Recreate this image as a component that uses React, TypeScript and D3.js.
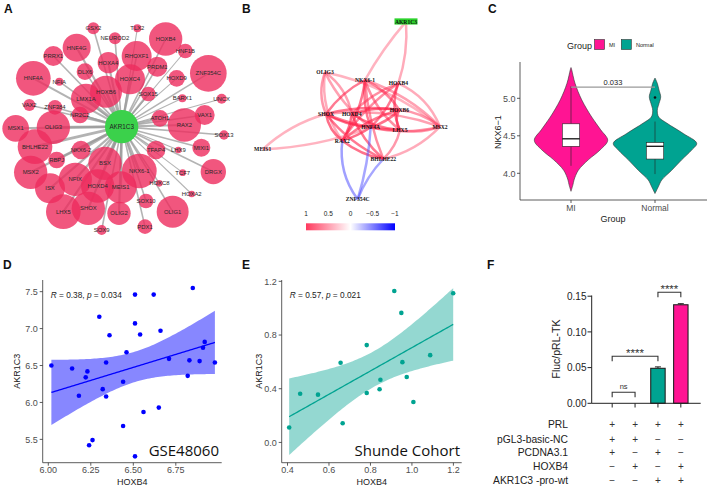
import React from "react";
import * as d3 from "d3";

const W = 708, H = 489;
const SANS = "'Liberation Sans', Arial, sans-serif";
const SERIF = "'Liberation Serif', 'Times New Roman', serif";

// ---------------- Panel A : network (layout units 0..720) ----------------
const aCenter = { name: "AKR1C3", x: 365, y: 380, r: 50 };
const aNames = ["GSX2","TLX2","NEUROD2","HOXB4","HNF4G","RHOXF1","HNF1B","PRRX1","PRDM1","HOXA4","ZNF354C","HNF4A","NFIA","DLX6","HOXD9","HOXC4","SOX15","HOXB6","LMX1A","BARX1","UNCX","VAX2","ZNF384","NR2C2","VAX1","ATOH1","RAX2","MSX1","OLIG3","SOX13","BHLHE22","NKX6-2","TFAP4","LHX9","MIXI1","RBPJ","BSX","NKX6-1","TCF7","DRGX","MSX2","NFIX","ISX","HOXD4","MEIS1","HOXC8","HOXA2","SOX10","LHX5","SHOX","OLIG2","OLIG1","PDX1","SOX9"];
const aX = [280,412,345,497,230,410,556,160,472,325,625,100,178,255,530,390,445,318,258,547,665,88,165,240,614,480,553,47,160,672,105,243,468,535,604,170,315,418,548,640,92,226,150,293,362,478,575,438,190,265,357,518,435,305];
const aY = [85,85,115,117,143,168,153,168,200,188,220,235,245,215,235,238,282,275,296,295,296,315,322,345,345,355,375,385,382,405,440,450,450,450,443,480,490,513,518,515,517,538,565,558,562,550,582,603,635,625,640,635,680,690];
const aR = [18,12,18,50,42,45,22,30,30,32,55,52,12,25,25,45,22,48,45,12,15,18,22,25,30,25,50,40,50,14,52,28,28,10,27,25,50,52,10,38,50,50,45,50,48,10,10,22,52,50,35,48,22,15];
const aW = [2,1,2,2,3,2,1,2,2,3,2,3,2,2,1,3,3,4,4,1,1,2,2,3,2,3,3,3,4,2,4,3,2,1,2,3,4,4,1,2,3,3,3,4,4,2,1,2,3,3,3,2,2,2];

// ---------------- Panel B : correlation network ----------------
const bNames = ["AKR1C3","OLIG3","NKX6-1","HOXB4","SHOX","HOXD4","HOXB6","HNF4A","LHX5","MSX2","RAX2","BHLHE22","MEIS1","ZNF354C"];
const bX = [528,285,405,505,288,365,508,422,510,630,337,460,98,383];
const bY = [65,217,240,250,342,342,330,382,390,380,422,477,448,598];
const bSrc = ["AKR1C3","AKR1C3","OLIG3","OLIG3","OLIG3","OLIG3","OLIG3","NKX6-1","NKX6-1","NKX6-1","NKX6-1","NKX6-1","NKX6-1","NKX6-1","HOXB4","HOXB4","HOXB4","HOXB4","HOXB4","SHOX","SHOX","SHOX","SHOX","SHOX","SHOX","HOXD4","HOXD4","HOXD4","HOXD4","HNF4A","HNF4A","HNF4A","HOXB6","HOXB6","HOXB6","LHX5","LHX5","MSX2","RAX2","MEIS1","MEIS1","ZNF354C","ZNF354C","ZNF354C"];
const bTgt = ["NKX6-1","HOXB4","MSX2","SHOX","HOXD4","HNF4A","RAX2","SHOX","RAX2","HNF4A","HOXB6","LHX5","MSX2","BHLHE22","HOXD4","HNF4A","LHX5","MSX2","RAX2","HOXB6","HNF4A","LHX5","MSX2","BHLHE22","RAX2","HOXB6","LHX5","RAX2","BHLHE22","HOXB6","MSX2","RAX2","MSX2","RAX2","LHX5","MSX2","BHLHE22","BHLHE22","BHLHE22","SHOX","HNF4A","RAX2","HNF4A","BHLHE22"];
const bCor = [0.4,0.45,0.4,0.55,0.5,0.5,0.45,0.7,0.75,0.7,0.65,0.6,0.5,0.6,0.6,0.7,0.7,0.45,0.6,0.75,0.85,0.75,0.5,0.7,0.85,0.75,0.75,0.85,0.7,0.8,0.6,0.85,0.55,0.7,0.7,0.5,0.55,0.45,0.8,0.4,0.4,-0.55,-0.5,-0.5];
const bCurv = [0.05,-0.1,-0.12,0.2,-0.2,0.12,0.2,0.12,-0.12,0.12,-0.15,0.15,-0.12,0.08,0.12,-0.12,0.2,-0.2,0.1,-0.1,0.12,0.1,-0.12,0.12,0.2,-0.12,0.12,-0.12,0.12,0.12,0.12,-0.08,-0.15,0.12,0.3,0.15,-0.15,-0.15,0.12,-0.12,0.08,-0.2,0.06,-0.1];
const bLegendTicks = [1, 0.5, 0, -0.5, -1];

// ---------------- Panel C : violin ----------------
const cGroups = ["MI", "Normal"];
const cColors = ["#FF1493", "#00A391"];
const miVal = [3.76,3.85,3.91,4.04,4.18,4.31,4.44,4.58,4.75,4.98,5.2,5.38,5.41];
const miDen = [0,2,3,7.3,17.3,29,36.7,29.7,20.7,10.7,4,0.7,0];
const nmVal = [3.73,3.82,3.91,4.04,4.18,4.31,4.4,4.53,4.67,4.75,4.84,4.93,5.02,5.11,5.2,5.27];
const nmDen = [0,3.3,6.7,16.7,26.7,36.7,41.7,28.3,11.7,3.7,2.3,4,5.7,4,2.3,0];
// q1, median, q3, lower whisker, upper whisker
const cBox = [[4.36,4.46,4.66,4.10,5.16],[4.19,4.36,4.41,3.99,4.69]];
const cOutliers = [[], [5.01]];
const cTicks = [4.0, 4.5, 5.0];
const cP = "0.033";

// ---------------- Panel D / E : scatter ----------------
const dX = [6.018,6.14,6.18,6.23,6.22,6.24,6.26,6.30,6.32,6.34,6.34,6.36,6.44,6.44,6.46,6.51,6.51,6.51,6.54,6.56,6.62,6.65,6.66,6.71,6.82,6.83,6.85,6.89,6.91,6.92,6.98];
const dY = [6.50,6.46,6.09,6.42,6.34,5.42,5.49,7.16,6.18,6.08,6.54,6.91,6.28,5.68,6.68,7.46,7.07,5.27,6.92,5.87,7.46,5.93,6.97,6.59,6.36,6.57,7.55,6.56,6.74,6.82,6.54];
const dXTicks = [6.0, 6.25, 6.5, 6.75];
const dYTicks = [5.5, 6.0, 6.5, 7.0, 7.5];
const eX = [0.408,0.461,0.547,0.656,0.666,0.782,0.782,0.844,0.848,0.915,0.949,0.954,0.975,1.007,1.088,1.199];
const eY = [0.111,0.363,0.356,0.594,0.143,0.725,0.368,0.396,0.467,1.128,0.965,0.598,0.487,0.301,0.650,1.111];
const eXTicks = [0.4, 0.6, 0.8, 1.0, 1.2];
const eYTicks = [0.0, 0.4, 0.8, 1.2];

// ---------------- Panel F : bar chart ----------------
const fVals = [0, 0, 0.049, 0.138];
const fErr = [0, 0, 0.002, 0.0015];
const fColors = ["#ffffff", "#ffffff", "#00A391", "#FF1493"];
const fTicks = [0.0, 0.05, 0.10, 0.15];
const fRowLabels = ["PRL", "pGL3-basic-NC", "PCDNA3.1", "HOXB4", "AKR1C3 -pro-wt"];
const fSigns = [["+","+","+","+"],["+","+","−","−"],["+","−","+","−"],["−","+","−","+"],["−","−","+","+"]];
const fBrFrom = [0, 0, 2];
const fBrTo = [1, 2, 3];
const fBrVal = [0.0154, 0.066, 0.1555];
const fBrLab = ["ns", "****", "****"];

function tQuant(df: number) {
  const z = 1.959964;
  return z + (z ** 3 + z) / (4 * df) + (5 * z ** 5 + 16 * z ** 3 + 3 * z) / (96 * df * df) +
    (3 * z ** 7 + 19 * z ** 5 + 17 * z ** 3 - 15 * z) / (384 * df ** 3);
}
function regression(xs: number[], ys: number[]) {
  const N = xs.length;
  const mx = d3.mean(xs)!, my = d3.mean(ys)!;
  let sxx = 0, sxy = 0;
  xs.forEach((x, i) => { sxx += (x - mx) ** 2; sxy += (x - mx) * (ys[i] - my); });
  const b = sxy / sxx, a = my - b * mx;
  let sse = 0;
  xs.forEach((x, i) => { sse += (ys[i] - a - b * x) ** 2; });
  const s = Math.sqrt(sse / (N - 2));
  const t = tQuant(N - 2);
  const [x0, x1] = d3.extent(xs) as [number, number];
  return d3.range(81).map(i => {
    const x = x0 + (x1 - x0) * i / 80;
    const yh = a + b * x;
    const se = s * Math.sqrt(1 / N + (x - mx) ** 2 / sxx);
    return { x, y: yh, lo: yh - t * se, hi: yh + t * se };
  });
}

function PanelA() {
  const s = d3.scaleLinear().domain([0, 720]).range([0, 240]);
  const nodes = aNames.map((n, i) => ({ n, x: s(aX[i]), y: s(aY[i]), r: aR[i] / 3, w: aW[i] }));
  const cx = s(aCenter.x), cy = s(aCenter.y);
  return (
    <g>
      {nodes.map((d, i) => (
        <line key={"e" + i} x1={cx} y1={cy} x2={d.x} y2={d.y} stroke="#9a9a9a" strokeOpacity={0.75} strokeWidth={0.5 + d.w * 0.55} />
      ))}
      {nodes.map((d, i) => (
        <circle key={"c" + i} cx={d.x} cy={d.y} r={d.r} fill="#EE2C5E" fillOpacity={0.8} />
      ))}
      <circle cx={cx} cy={cy} r={aCenter.r / 3} fill="#3BD14B" />
      {nodes.map((d, i) => (
        <text key={"t" + i} x={d.x} y={d.y + 2} fontSize={5.9} fill="#2a2a2a" textAnchor="middle" fontFamily={SANS}>{d.n}</text>
      ))}
      <text x={cx} y={cy + 2.2} fontSize={6.3} fill="#222" textAnchor="middle" fontFamily={SANS}>{aCenter.name}</text>
    </g>
  );
}

function PanelB() {
  const sx = d3.scaleLinear().domain([0, 690]).range([230, 460]);
  const sy = d3.scaleLinear().domain([0, 720]).range([0, 240]);
  const pos: Record<string, [number, number]> = {};
  bNames.forEach((n, i) => { pos[n] = [sx(bX[i]), sy(bY[i])]; });
  const col = d3.scaleLinear<string>().domain([-1, 0, 1]).range(["#2020FF", "#FFFFFF", "#FF2048"]);
  const edges = bSrc.map((sname, i) => {
    const [x1, y1] = pos[sname];
    const [x2, y2] = pos[bTgt[i]];
    const mx = (x1 + x2) / 2, my = (y1 + y2) / 2;
    const dx = x2 - x1, dy = y2 - y1;
    const cxp = mx - dy * bCurv[i], cyp = my + dx * bCurv[i];
    const p = d3.path();
    p.moveTo(x1, y1);
    p.quadraticCurveTo(cxp, cyp, x2, y2);
    return { d: p.toString(), c: col(Math.sign(bCor[i]) * Math.min(1, Math.abs(bCor[i]) + 0.3)), v: bCor[i] };
  });
  const lx = d3.scaleLinear().domain([1, -1]).range([306, 395]);
  return (
    <g>
      <defs>
        <linearGradient id="bgrad" x1="0" x2="1" y1="0" y2="0">
          <stop offset="0%" stopColor="#FF3A5E" />
          <stop offset="50%" stopColor="#FFFFFF" />
          <stop offset="100%" stopColor="#0000FF" />
        </linearGradient>
      </defs>
      {edges.map((e, i) => (
        <path key={i} d={e.d} fill="none" stroke={e.c} strokeOpacity={e.v < 0 ? 0.5 : 0.35 + Math.abs(e.v) * 0.35} strokeWidth={2.5} />
      ))}
      {bNames.map((n, i) => {
        const [x, y] = pos[n];
        if (n === "AKR1C3") {
          return (
            <g key={n}>
              <rect x={x - 11.5} y={y - 3.3} width={23} height={6.2} fill="#2BD12B" />
              <text x={x} y={y + 2} fontSize={5.6} fontWeight="bold" textAnchor="middle" fontFamily={SERIF} fill="#111">{n}</text>
            </g>
          );
        }
        return <text key={n} x={x} y={y + 2} fontSize={5.6} fontWeight="bold" textAnchor="middle" fontFamily={SERIF} fill="#111">{n}</text>;
      })}
      {bLegendTicks.map(t => (
        <text key={t} x={lx(t)} y={216} fontSize={6.5} textAnchor="middle" fontFamily={SANS} fill="#222">{t < 0 ? "−" + Math.abs(t) : String(t)}</text>
      ))}
      <rect x={306} y={223.3} width={89} height={7} fill="url(#bgrad)" />
    </g>
  );
}

function PanelC() {
  const y = d3.scaleLinear().domain([3.644, 5.484]).range([200, 62]);
  const x = d3.scaleBand().domain(cGroups).range([529, 697]).padding(0);
  const cxs = cGroups.map(g => x(g)! + x.bandwidth() / 2);
  const profiles = [miVal.map((v, i) => [v, miDen[i]]), nmVal.map((v, i) => [v, nmDen[i]])];
  const sigY = y(5.15);
  return (
    <g fontFamily={SANS}>
      {profiles.map((pr, gi) => {
        const area = d3.area<number[]>().y(d => y(d[0])).x0(d => cxs[gi] - d[1]).x1(d => cxs[gi] + d[1]).curve(d3.curveCatmullRom);
        return <path key={gi} d={area(pr)!} fill={cColors[gi]} stroke="#333" strokeWidth={0.6} />;
      })}
      {cBox.map((b, gi) => {
        const cx = cxs[gi], bw = 8.7;
        return (
          <g key={gi}>
            <line x1={cx} x2={cx} y1={y(b[3])} y2={y(b[0])} stroke="#222" strokeWidth={0.6} />
            <line x1={cx} x2={cx} y1={y(b[2])} y2={y(b[4])} stroke="#222" strokeWidth={0.6} />
            <rect x={cx - bw} width={bw * 2} y={y(b[2])} height={y(b[0]) - y(b[2])} fill="#fff" stroke="#222" strokeWidth={0.6} />
            <line x1={cx - bw} x2={cx + bw} y1={y(b[1])} y2={y(b[1])} stroke="#111" strokeWidth={1.3} />
            {cOutliers[gi].map((o, j) => <circle key={j} cx={cx} cy={y(o)} r={1.3} fill="#111" />)}
          </g>
        );
      })}
      <line x1={cxs[0]} x2={cxs[1]} y1={sigY} y2={sigY} stroke="#9a9a9a" strokeWidth={1.2} />
      <text x={(cxs[0] + cxs[1]) / 2} y={sigY - 2.5} fontSize={7.5} textAnchor="middle" fill="#222">{cP}</text>
      <line x1={520} x2={520} y1={62} y2={200} stroke="#333" strokeWidth={0.8} />
      <line x1={520} x2={707} y1={200} y2={200} stroke="#333" strokeWidth={0.8} />
      {cTicks.map(t => (
        <g key={t}>
          <line x1={517} x2={520} y1={y(t)} y2={y(t)} stroke="#333" strokeWidth={0.8} />
          <text x={515.5} y={y(t) + 3.2} fontSize={9} textAnchor="end" fill="#4d4d4d">{t.toFixed(1)}</text>
        </g>
      ))}
      {cGroups.map((g, i) => (
        <g key={g}>
          <line x1={cxs[i]} x2={cxs[i]} y1={200} y2={203} stroke="#333" strokeWidth={0.8} />
          <text x={cxs[i]} y={211} fontSize={8.5} textAnchor="middle" fill="#4d4d4d">{g}</text>
        </g>
      ))}
      <text x={613} y={222} fontSize={9} textAnchor="middle" fill="#222">Group</text>
      <text transform={`translate(501,${y(4.55)}) rotate(-90)`} fontSize={9} textAnchor="middle" fill="#222">NKX6−1</text>
      <text x={567} y={48.5} fontSize={9} fill="#222">Group</text>
      <rect x={594.5} y={39.5} width={10} height={10} fill={cColors[0]} stroke="#333" strokeWidth={0.6} />
      <text x={609} y={47} fontSize={5.5} fill="#222">MI</text>
      <rect x={621.3} y={39.5} width={10} height={10} fill={cColors[1]} stroke="#333" strokeWidth={0.6} />
      <text x={636} y={47} fontSize={5.5} fill="#222">Normal</text>
    </g>
  );
}

function Scatter(props: {
  xs: number[]; ys: number[]; xd: [number, number]; yd: [number, number]; x0: number; x1: number;
  xticks: number[]; yticks: number[]; xfmt: (v: number) => string; yfmt: (v: number) => string;
  color: string; band: string; bandOp: number; stat: [string, string]; tag: string; tagX: number; ylabX: number;
}) {
  const { xs, ys, x0, x1 } = props;
  const y0 = 462.7, yTop = 280;
  const x = d3.scaleLinear().domain(props.xd).range([x0, x1]);
  const y = d3.scaleLinear().domain(props.yd).range([y0, yTop]);
  const reg = regression(xs, ys);
  const area = d3.area<any>().x(d => x(d.x)).y0(d => y(d.lo)).y1(d => y(d.hi));
  const line = d3.line<any>().x(d => x(d.x)).y(d => y(d.y));
  return (
    <g fontFamily={SANS}>
      <path d={area(reg)!} fill={props.band} fillOpacity={props.bandOp} />
      <path d={line(reg)!} fill="none" stroke={props.color} strokeWidth={1.3} />
      {xs.map((v, i) => <circle key={i} cx={x(v)} cy={y(ys[i])} r={2.3} fill={props.color} />)}
      <line x1={x0} x2={x0} y1={yTop} y2={y0} stroke="#333" strokeWidth={0.8} />
      <line x1={x0} x2={x1} y1={y0} y2={y0} stroke="#333" strokeWidth={0.8} />
      {props.yticks.map(t => (
        <g key={t}>
          <line x1={x0 - 3} x2={x0} y1={y(t)} y2={y(t)} stroke="#333" strokeWidth={0.8} />
          <text x={x0 - 5} y={y(t) + 3.2} fontSize={9} textAnchor="end" fill="#4d4d4d">{props.yfmt(t)}</text>
        </g>
      ))}
      {props.xticks.map(t => (
        <g key={t}>
          <line x1={x(t)} x2={x(t)} y1={y0} y2={y0 + 3} stroke="#333" strokeWidth={0.8} />
          <text x={x(t)} y={473} fontSize={9} textAnchor="middle" fill="#4d4d4d">{props.xfmt(t)}</text>
        </g>
      ))}
      <text x={(x0 + x1) / 2} y={484.5} fontSize={9} textAnchor="middle" fill="#222">HOXB4</text>
      <text transform={`translate(${props.ylabX},${(y0 + yTop) / 2}) rotate(-90)`} fontSize={9} textAnchor="middle" fill="#222">AKR1C3</text>
      <text x={x0 + 8} y={y(props.yd[1]) + 17.5} fontSize={8.3} fill="#222">
        <tspan fontStyle="italic">R</tspan> = {props.stat[0]}, <tspan fontStyle="italic">p</tspan> = {props.stat[1]}
      </text>
      <text x={props.tagX} y={456} fontSize={15} textAnchor="end" fill="#111" fontFamily="'Open Sans', sans-serif">{props.tag}</text>
    </g>
  );
}

function PanelF() {
  const y = d3.scaleLinear().domain([0, 0.15]).range([403.3, 296.2]);
  const x = d3.scaleBand<number>().domain([0, 1, 2, 3]).range([596.5, 696.5]).padding(0.37);
  const cx = (i: number) => x(i)! + x.bandwidth() / 2;
  const rowY = [428, 442.5, 456, 470, 484];
  return (
    <g fontFamily={SANS}>
      {fVals.map((v, i) => v > 0 ? (
        <g key={i}>
          <line x1={cx(i)} x2={cx(i)} y1={y(v + fErr[i])} y2={y(v)} stroke="#222" strokeWidth={1} />
          <line x1={cx(i) - 3} x2={cx(i) + 3} y1={y(v + fErr[i])} y2={y(v + fErr[i])} stroke="#222" strokeWidth={1} />
          <rect x={x(i)} width={x.bandwidth()} y={y(v)} height={y(0) - y(v)} fill={fColors[i]} stroke="#222" strokeWidth={1.1} />
        </g>
      ) : null)}
      <line x1={591.7} x2={591.7} y1={295.5} y2={403.3} stroke="#222" strokeWidth={1} />
      <line x1={591.7} x2={700.7} y1={403.3} y2={403.3} stroke="#222" strokeWidth={1} />
      {fTicks.map(t => (
        <g key={t}>
          <line x1={587.5} x2={591.7} y1={y(t)} y2={y(t)} stroke="#222" strokeWidth={1} />
          <text x={586.5} y={y(t) + 3.6} fontSize={10} textAnchor="end" fill="#222">{t.toFixed(2)}</text>
        </g>
      ))}
      {fVals.map((_, i) => <line key={i} x1={cx(i)} x2={cx(i)} y1={403.3} y2={407.5} stroke="#222" strokeWidth={1} />)}
      {fBrFrom.map((a, i) => {
        const yy = y(fBrVal[i]);
        const xa = cx(a), xb = cx(fBrTo[i]);
        return (
          <g key={i}>
            <path d={`M${xa},${yy + 5}V${yy}H${xb}V${yy + 5}`} fill="none" stroke="#333" strokeWidth={1.1} />
            <text x={(xa + xb) / 2} y={fBrLab[i] === "ns" ? yy - 3 : yy + 0.5} fontSize={fBrLab[i] === "ns" ? 7.5 : 11.5} textAnchor="middle" fill="#333">{fBrLab[i]}</text>
          </g>
        );
      })}
      <text transform={`translate(560,349) rotate(-90)`} fontSize={10.5} textAnchor="middle" fill="#222">Fluc/pRL-TK</text>
      {fRowLabels.map((l, r) => (
        <g key={l}>
          <text x={568} y={rowY[r]} fontSize={10.3} textAnchor="end" fill="#222">{l}</text>
          {fSigns[r].map((s, i) => (
            <text key={i} x={cx(i)} y={rowY[r]} fontSize={10} textAnchor="middle" fill="#333">{s}</text>
          ))}
        </g>
      ))}
    </g>
  );
}

export default function App() {
  return (
    <svg width={W} height={H} viewBox={`0 0 ${W} ${H}`} style={{ position: "absolute", left: 0, top: 0, background: "#fff" }}>
      <rect width={W} height={H} fill="#fff" />
      <PanelA />
      <PanelB />
      <PanelC />
      <Scatter xs={dX} ys={dY} xd={[5.967, 7.02]} yd={[5.184, 7.658]} x0={42.7} x1={221.7}
        xticks={dXTicks} yticks={dYTicks} xfmt={v => v.toFixed(2)} yfmt={v => v.toFixed(1)}
        color="#0000FF" band="#0000FF" bandOp={0.47} stat={["0.38", "0.034"]} tag="GSE48060" tagX={219} ylabX={20} />
      <Scatter xs={eX} ys={eY} xd={[0.372, 1.24]} yd={[-0.151, 1.21]} x0={281.7} x1={461.7}
        xticks={eXTicks} yticks={eYTicks} xfmt={v => v.toFixed(1)} yfmt={v => v.toFixed(1)}
        color="#00A391" band="#00A391" bandOp={0.42} stat={["0.57", "0.021"]} tag="Shunde Cohort" tagX={460} ylabX={262} />
      <PanelF />
      {[["A", 4, 13], ["B", 242, 13], ["C", 488, 13], ["D", 3, 269], ["E", 242, 269], ["F", 487, 269]].map(([t, x, y]) => (
        <text key={t as string} x={x as number} y={y as number} fontSize={12} fontWeight="bold" fontFamily={SANS} fill="#111">{t}</text>
      ))}
    </svg>
  );
}
